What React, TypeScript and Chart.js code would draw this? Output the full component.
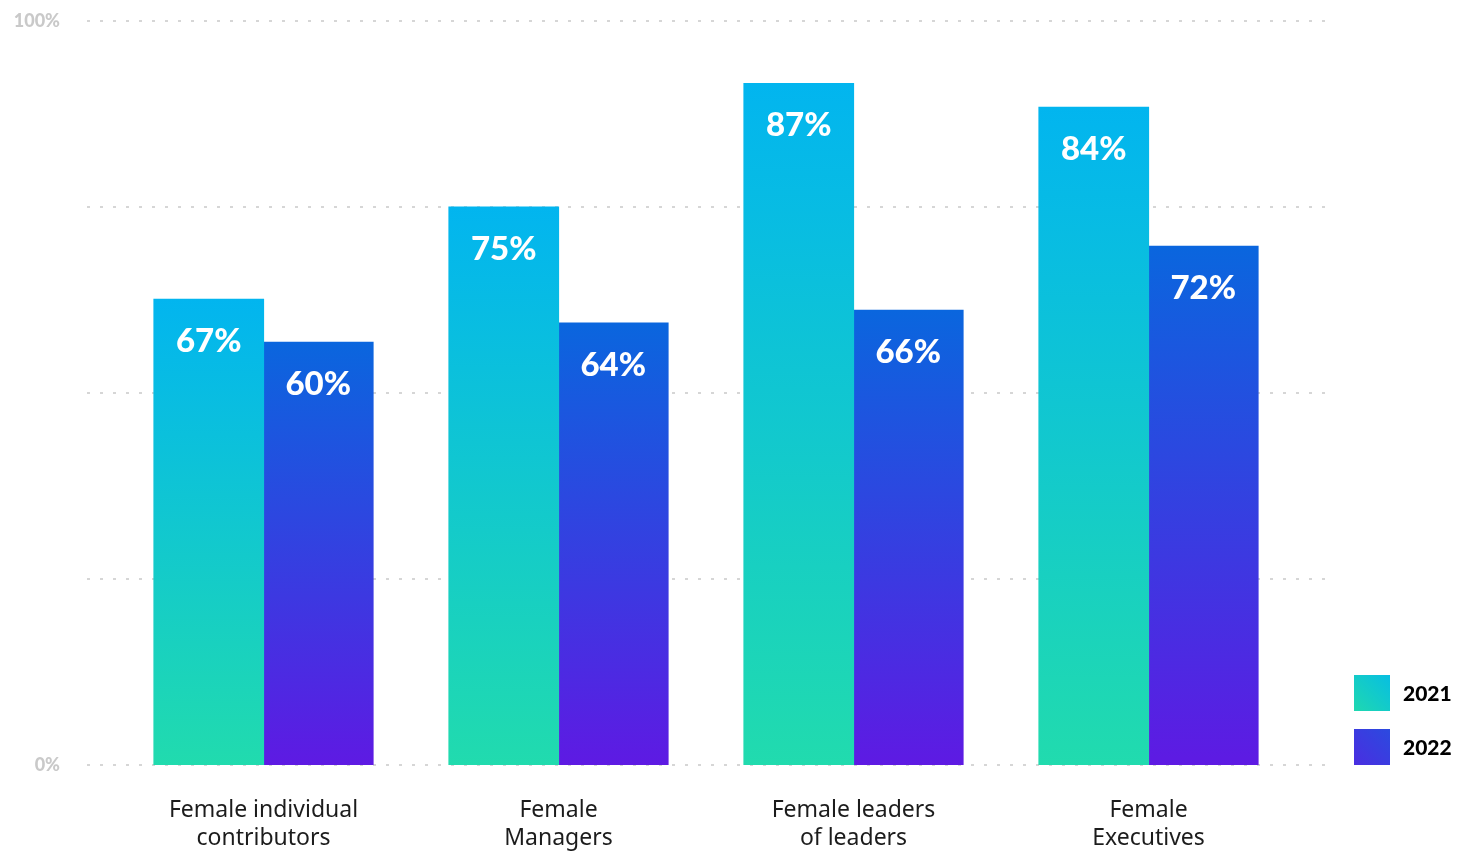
import React, { useEffect, useRef } from "react";
import { Chart, registerables } from "chart.js";

Chart.register(...registerables);

const categories: string[][] = [
  ["Female individual", "contributors"],
  ["Female", "Managers"],
  ["Female leaders", "of leaders"],
  ["Female", "Executives"],
];
const seriesNames = ["2021", "2022"];
// bar heights as drawn in the reference (percent of the 0–100 axis)
const values2021 = [62.6, 75.0, 91.6, 88.4];
const values2022 = [56.8, 59.4, 61.1, 69.7];
// printed labels on the bars
const labels2021 = ["67%", "75%", "87%", "84%"];
const labels2022 = ["60%", "64%", "66%", "72%"];
const yTicks = [0, 25, 50, 75, 100];
const yTickLabels: Record<number, string> = { 0: "0%", 100: "100%" };

const gradTop = ["#02B5EF", "#0A66DE"];
const gradBottom = ["#21DBAE", "#5E1AE3"];
const legendA = ["#1FD8B0", "#4A2EE1"];
const legendB = ["#07BEE2", "#2B4ADF"];

const barGradient = (idx: number) => (ctx: any) => {
  const chart = ctx.chart;
  if (!chart.chartArea || ctx.type !== "data") return gradTop[idx];
  const y = chart.scales.y;
  const top = y.getPixelForValue(ctx.parsed.y);
  const bottom = y.getPixelForValue(0);
  const g = chart.ctx.createLinearGradient(0, top, 0, bottom);
  g.addColorStop(0, gradTop[idx]);
  g.addColorStop(1, gradBottom[idx]);
  return g;
};

const dashedGrid = {
  id: "dashedGrid",
  beforeDatasetsDraw(chart: any) {
    const { ctx, chartArea, scales } = chart;
    ctx.save();
    ctx.strokeStyle = "#d6d6d6";
    ctx.lineWidth = 2;
    ctx.setLineDash([3, 10]);
    yTicks.forEach((v) => {
      const py = Math.round(scales.y.getPixelForValue(v));
      ctx.beginPath();
      ctx.moveTo(chartArea.left - 29, py);
      ctx.lineTo(chartArea.right + 30, py);
      ctx.stroke();
    });
    ctx.restore();
  },
};

const barLabels = {
  id: "barLabels",
  afterDatasetsDraw(chart: any) {
    const { ctx } = chart;
    const texts = [labels2021, labels2022];
    ctx.save();
    ctx.fillStyle = "#ffffff";
    ctx.font = "900 33px Lato";
    ctx.textAlign = "center";
    ctx.textBaseline = "middle";
    chart.data.datasets.forEach((_: any, di: number) => {
      const meta = chart.getDatasetMeta(di);
      meta.data.forEach((el: any, i: number) => {
        ctx.fillText(texts[di][i], el.x, el.y + 42);
      });
    });
    ctx.restore();
  },
};

const sideLegend = {
  id: "sideLegend",
  afterDraw(chart: any) {
    const { ctx, chartArea } = chart;
    const x = chartArea.right + 58;
    const size = 36;
    ctx.save();
    seriesNames.forEach((name, i) => {
      const y = chartArea.bottom - size - (seriesNames.length - 1 - i) * 54;
      const g = ctx.createLinearGradient(x, y + size, x + size, y);
      g.addColorStop(0, legendA[i]);
      g.addColorStop(1, legendB[i]);
      ctx.fillStyle = g;
      ctx.fillRect(x, y, size, size);
      ctx.fillStyle = "#000000";
      ctx.font = "900 21px Lato";
      ctx.textAlign = "left";
      ctx.textBaseline = "middle";
      ctx.fillText(name, x + size + 13, y + size / 2 + 1);
    });
    ctx.restore();
  },
};

export default function App() {
  const ref = useRef<HTMLCanvasElement>(null);

  useEffect(() => {
    if (!ref.current) return;
    const chart = new Chart(ref.current, {
      type: "bar",
      data: {
        labels: categories,
        datasets: [
          {
            label: seriesNames[0],
            data: values2021,
            backgroundColor: barGradient(0),
            borderWidth: 0,
            inflateAmount: 0.6,
            categoryPercentage: 0.7424,
            barPercentage: 1,
          },
          {
            label: seriesNames[1],
            data: values2022,
            backgroundColor: barGradient(1),
            borderWidth: 0,
            inflateAmount: 0.6,
            categoryPercentage: 0.7424,
            barPercentage: 1,
          },
        ],
      },
      options: {
        responsive: false,
        animation: false,
        devicePixelRatio: 1,
        layout: { padding: { top: 21, right: 164, bottom: 0, left: 0 } },
        plugins: {
          legend: { display: false },
          tooltip: { enabled: false },
        },
        scales: {
          x: {
            grid: { display: false, drawTicks: false },
            border: { display: false },
            ticks: {
              padding: 31,
              color: "#1c1c1c",
              font: { family: "'Noto Sans'", size: 23, weight: "normal", lineHeight: 1.22 },
              maxRotation: 0,
              autoSkip: false,
            },
            afterFit: (s: any) => {
              s.height = 86;
            },
          },
          y: {
            min: 0,
            max: 100,
            grid: { display: false, drawTicks: false },
            border: { display: false },
            afterBuildTicks: (s: any) => {
              s.ticks = yTicks.map((v) => ({ value: v }));
            },
            ticks: {
              padding: 56,
              color: "#c9c9c9",
              font: { family: "Lato", size: 18, weight: "900" },
              callback: (v: any) => yTickLabels[v as number] ?? "",
            },
            afterFit: (s: any) => {
              s.width = 116;
              s.paddingTop = 0;
              s.paddingBottom = 0;
            },
          },
        },
      },
      plugins: [dashedGrid, barLabels, sideLegend],
    });
    return () => chart.destroy();
  }, []);

  return (
    <div style={{ position: "fixed", left: 0, top: 0, width: 1460, height: 851, background: "#ffffff" }}>
      <canvas ref={ref} width={1460} height={851} style={{ width: 1460, height: 851, display: "block" }} />
    </div>
  );
}
